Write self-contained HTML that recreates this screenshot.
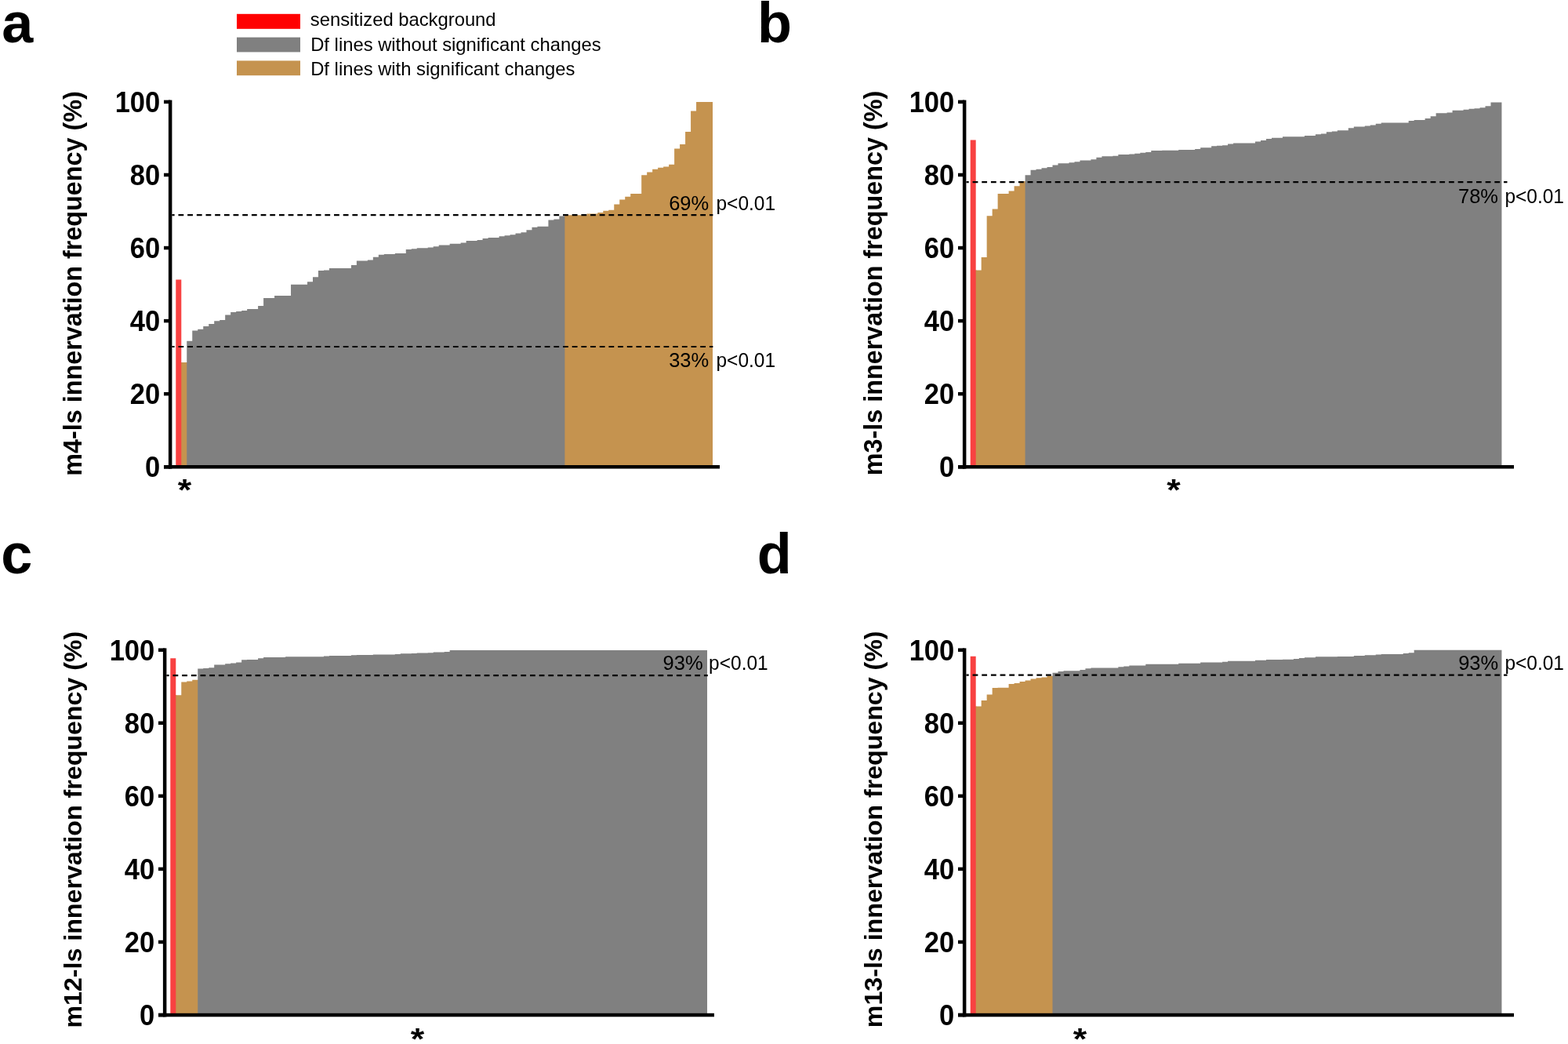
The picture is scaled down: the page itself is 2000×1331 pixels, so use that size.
<!DOCTYPE html>
<html><head><meta charset="utf-8"><title>Innervation frequency figure</title>
<style>html,body{margin:0;padding:0;background:#fff;}svg{display:block;}</style></head>
<body>
<svg width="2000" height="1331" viewBox="0 0 2000 1331">
<rect width="2000" height="1331" fill="#fff"/>
<path d="M224.3,593.2 L224.3,356.6 L231.29,356.6 L231.29,462.0 L232.09,462.0 L232.09,593.2 Z" fill="#F84141"/>
<path d="M231.29,593.2 L231.29,462.0 L238.27,462.0 L238.27,462.0 L239.07,462.0 L239.07,593.2 Z" fill="#C5934F"/>
<path d="M238.27,593.2 L238.27,434.8 L245.26,434.8 L245.26,421.6 L252.25,421.6 L252.25,419.7 L259.24,419.7 L259.24,416.1 L266.22,416.1 L266.22,413.1 L273.21,413.1 L273.21,409.3 L280.2,409.3 L280.2,408.1 L287.18,408.1 L287.18,401.5 L294.17,401.5 L294.17,397.9 L301.16,397.9 L301.16,397.0 L308.14,397.0 L308.14,395.9 L315.13,395.9 L315.13,394.0 L322.12,394.0 L322.12,394.0 L329.11,394.0 L329.11,390.1 L336.09,390.1 L336.09,379.9 L343.08,379.9 L343.08,379.9 L350.07,379.9 L350.07,376.9 L357.05,376.9 L357.05,376.9 L364.04,376.9 L364.04,376.9 L371.03,376.9 L371.03,362.8 L378.01,362.8 L378.01,362.8 L385.0,362.8 L385.0,362.8 L391.99,362.8 L391.99,359.2 L398.98,359.2 L398.98,353.2 L405.96,353.2 L405.96,345.0 L412.95,345.0 L412.95,344.5 L419.94,344.5 L419.94,342.0 L426.92,342.0 L426.92,342.0 L433.91,342.0 L433.91,342.0 L440.9,342.0 L440.9,342.0 L447.88,342.0 L447.88,338.1 L454.87,338.1 L454.87,332.5 L461.86,332.5 L461.86,332.5 L468.85,332.5 L468.85,331.5 L475.83,331.5 L475.83,327.7 L482.82,327.7 L482.82,324.7 L489.81,324.7 L489.81,323.9 L496.79,323.9 L496.79,323.9 L503.78,323.9 L503.78,322.9 L510.77,322.9 L510.77,322.9 L517.75,322.9 L517.75,318.1 L524.74,318.1 L524.74,317.3 L531.73,317.3 L531.73,316.3 L538.72,316.3 L538.72,316.3 L545.7,316.3 L545.7,315.4 L552.69,315.4 L552.69,314.3 L559.68,314.3 L559.68,312.4 L566.66,312.4 L566.66,312.4 L573.65,312.4 L573.65,310.7 L580.64,310.7 L580.64,310.7 L587.62,310.7 L587.62,309.5 L594.61,309.5 L594.61,307.0 L601.6,307.0 L601.6,307.0 L608.59,307.0 L608.59,305.9 L615.57,305.9 L615.57,304.0 L622.56,304.0 L622.56,303.1 L629.55,303.1 L629.55,303.1 L636.53,303.1 L636.53,301.3 L643.52,301.3 L643.52,300.3 L650.51,300.3 L650.51,299.3 L657.49,299.3 L657.49,297.4 L664.48,297.4 L664.48,296.2 L671.47,296.2 L671.47,293.3 L678.46,293.3 L678.46,289.7 L685.44,289.7 L685.44,288.7 L692.43,288.7 L692.43,288.7 L699.42,288.7 L699.42,280.5 L706.4,280.5 L706.4,279.5 L713.39,279.5 L713.39,275.6 L720.38,275.6 L720.38,275.6 L721.18,275.6 L721.18,593.2 Z" fill="#808080"/>
<path d="M720.38,593.2 L720.38,274.3 L727.36,274.3 L727.36,274.3 L734.35,274.3 L734.35,274.3 L741.34,274.3 L741.34,274.3 L748.33,274.3 L748.33,272.4 L755.31,272.4 L755.31,272.4 L762.3,272.4 L762.3,270.9 L769.29,270.9 L769.29,268.8 L776.27,268.8 L776.27,267.7 L783.26,267.7 L783.26,260.4 L790.25,260.4 L790.25,254.4 L797.23,254.4 L797.23,250.7 L804.22,250.7 L804.22,247.1 L811.21,247.1 L811.21,247.1 L818.19,247.1 L818.19,223.2 L825.18,223.2 L825.18,219.4 L832.17,219.4 L832.17,215.7 L839.16,215.7 L839.16,213.8 L846.14,213.8 L846.14,212.4 L853.13,212.4 L853.13,209.7 L860.12,209.7 L860.12,189.5 L867.1,189.5 L867.1,184.1 L874.09,184.1 L874.09,168.0 L881.08,168.0 L881.08,141.5 L888.07,141.5 L888.07,130.1 L895.05,130.1 L895.05,130.1 L902.04,130.1 L902.04,130.1 L909.03,130.1 L909.03,593.2 Z" fill="#C5934F"/>
<rect x="214.9" y="127.6" width="4.5" height="470.0" fill="#000"/>
<rect x="209.0" y="593.0" width="709.0" height="4.5" fill="#000"/>
<rect x="209.0" y="593.00" width="8.150000000000006" height="4.5" fill="#000"/>
<text transform="translate(204.3,608.15) scale(0.955,1)" text-anchor="end" font-family="'Liberation Sans', Arial, Helvetica, sans-serif" font-weight="bold" font-size="36.2">0</text>
<rect x="209.0" y="499.93" width="8.150000000000006" height="4.5" fill="#000"/>
<text transform="translate(204.3,515.08) scale(0.955,1)" text-anchor="end" font-family="'Liberation Sans', Arial, Helvetica, sans-serif" font-weight="bold" font-size="36.2">20</text>
<rect x="209.0" y="406.86" width="8.150000000000006" height="4.5" fill="#000"/>
<text transform="translate(204.3,422.01) scale(0.955,1)" text-anchor="end" font-family="'Liberation Sans', Arial, Helvetica, sans-serif" font-weight="bold" font-size="36.2">40</text>
<rect x="209.0" y="313.79" width="8.150000000000006" height="4.5" fill="#000"/>
<text transform="translate(204.3,328.94) scale(0.955,1)" text-anchor="end" font-family="'Liberation Sans', Arial, Helvetica, sans-serif" font-weight="bold" font-size="36.2">60</text>
<rect x="209.0" y="220.72" width="8.150000000000006" height="4.5" fill="#000"/>
<text transform="translate(204.3,235.87) scale(0.955,1)" text-anchor="end" font-family="'Liberation Sans', Arial, Helvetica, sans-serif" font-weight="bold" font-size="36.2">80</text>
<rect x="209.0" y="127.65" width="8.150000000000006" height="4.5" fill="#000"/>
<text transform="translate(204.3,142.80) scale(0.955,1)" text-anchor="end" font-family="'Liberation Sans', Arial, Helvetica, sans-serif" font-weight="bold" font-size="36.2">100</text>
<line x1="219.4" y1="274.15" x2="909.4" y2="274.15" stroke="#000" stroke-width="2.2" stroke-dasharray="6.8 4.88" stroke-dashoffset="3.6"/>
<line x1="219.4" y1="442.0" x2="909.4" y2="442.0" stroke="#000" stroke-width="2.2" stroke-dasharray="6.8 4.88" stroke-dashoffset="3.6"/>
<text x="904.2" y="268.0" text-anchor="end" font-family="'Liberation Sans', Arial, Helvetica, sans-serif" font-size="25.5">69%</text>
<text x="913.5" y="268.0" text-anchor="start" font-family="'Liberation Sans', Arial, Helvetica, sans-serif" font-size="25.5" textLength="75.6" lengthAdjust="spacingAndGlyphs">p&lt;0.01</text>
<text x="904.2" y="467.7" text-anchor="end" font-family="'Liberation Sans', Arial, Helvetica, sans-serif" font-size="25.5">33%</text>
<text x="913.5" y="467.7" text-anchor="start" font-family="'Liberation Sans', Arial, Helvetica, sans-serif" font-size="25.5" textLength="75.6" lengthAdjust="spacingAndGlyphs">p&lt;0.01</text>
<text transform="translate(104.0,361.55) rotate(-90)" text-anchor="middle" font-family="'Liberation Sans', Arial, Helvetica, sans-serif" font-weight="bold" font-size="32.33">m4-ls innervation frequency (%)</text>
<text x="2.3" y="53.5" font-family="'Liberation Sans', Arial, Helvetica, sans-serif" font-weight="bold" font-size="72">a</text>
<text transform="translate(235.5,638.2) scale(1.07,0.94)" text-anchor="middle" font-family="'Liberation Sans', Arial, Helvetica, sans-serif" font-weight="bold" font-size="42">*</text>
<path d="M1237.7,593.2 L1237.7,178.5 L1244.69,178.5 L1244.69,344.6 L1245.49,344.6 L1245.49,593.2 Z" fill="#F84141"/>
<path d="M1244.69,593.2 L1244.69,344.6 L1251.67,344.6 L1251.67,328.0 L1258.66,328.0 L1258.66,275.2 L1265.65,275.2 L1265.65,266.6 L1272.63,266.6 L1272.63,247.0 L1279.62,247.0 L1279.62,247.0 L1286.61,247.0 L1286.61,243.6 L1293.6,243.6 L1293.6,237.2 L1300.58,237.2 L1300.58,230.9 L1307.57,230.9 L1307.57,230.9 L1308.37,230.9 L1308.37,593.2 Z" fill="#C5934F"/>
<path d="M1307.57,593.2 L1307.57,223.2 L1314.56,223.2 L1314.56,216.7 L1321.54,216.7 L1321.54,215.7 L1328.53,215.7 L1328.53,214.2 L1335.52,214.2 L1335.52,213.1 L1342.51,213.1 L1342.51,210.4 L1349.49,210.4 L1349.49,208.3 L1356.48,208.3 L1356.48,208.3 L1363.47,208.3 L1363.47,207.3 L1370.45,207.3 L1370.45,206.3 L1377.44,206.3 L1377.44,204.4 L1384.43,204.4 L1384.43,204.4 L1391.41,204.4 L1391.41,203.3 L1398.4,203.3 L1398.4,200.7 L1405.39,200.7 L1405.39,199.3 L1412.38,199.3 L1412.38,199.3 L1419.36,199.3 L1419.36,198.7 L1426.35,198.7 L1426.35,196.9 L1433.34,196.9 L1433.34,196.9 L1440.32,196.9 L1440.32,196.5 L1447.31,196.5 L1447.31,195.7 L1454.3,195.7 L1454.3,194.8 L1461.28,194.8 L1461.28,194.1 L1468.27,194.1 L1468.27,192.1 L1475.26,192.1 L1475.26,192.1 L1482.25,192.1 L1482.25,191.8 L1489.23,191.8 L1489.23,191.8 L1496.22,191.8 L1496.22,191.8 L1503.21,191.8 L1503.21,191.1 L1510.19,191.1 L1510.19,190.9 L1517.18,190.9 L1517.18,190.9 L1524.17,190.9 L1524.17,190.0 L1531.15,190.0 L1531.15,188.3 L1538.14,188.3 L1538.14,188.3 L1545.13,188.3 L1545.13,186.3 L1552.12,186.3 L1552.12,185.8 L1559.1,185.8 L1559.1,185.3 L1566.09,185.3 L1566.09,183.6 L1573.08,183.6 L1573.08,182.4 L1580.06,182.4 L1580.06,182.4 L1587.05,182.4 L1587.05,182.4 L1594.04,182.4 L1594.04,182.4 L1601.02,182.4 L1601.02,180.6 L1608.01,180.6 L1608.01,178.9 L1615.0,178.9 L1615.0,177.0 L1621.99,177.0 L1621.99,175.8 L1628.97,175.8 L1628.97,175.8 L1635.96,175.8 L1635.96,174.3 L1642.95,174.3 L1642.95,174.3 L1649.93,174.3 L1649.93,174.3 L1656.92,174.3 L1656.92,174.3 L1663.91,174.3 L1663.91,173.1 L1670.89,173.1 L1670.89,173.1 L1677.88,173.1 L1677.88,171.3 L1684.87,171.3 L1684.87,170.4 L1691.86,170.4 L1691.86,168.3 L1698.84,168.3 L1698.84,167.4 L1705.83,167.4 L1705.83,166.3 L1712.82,166.3 L1712.82,166.3 L1719.8,166.3 L1719.8,163.2 L1726.79,163.2 L1726.79,161.6 L1733.78,161.6 L1733.78,161.6 L1740.76,161.6 L1740.76,160.6 L1747.75,160.6 L1747.75,159.4 L1754.74,159.4 L1754.74,157.8 L1761.72,157.8 L1761.72,156.6 L1768.71,156.6 L1768.71,156.6 L1775.7,156.6 L1775.7,156.6 L1782.69,156.6 L1782.69,156.6 L1789.67,156.6 L1789.67,156.6 L1796.66,156.6 L1796.66,154.1 L1803.65,154.1 L1803.65,153.0 L1810.63,153.0 L1810.63,153.0 L1817.62,153.0 L1817.62,151.1 L1824.61,151.1 L1824.61,148.2 L1831.6,148.2 L1831.6,144.2 L1838.58,144.2 L1838.58,144.2 L1845.57,144.2 L1845.57,143.5 L1852.56,143.5 L1852.56,140.8 L1859.54,140.8 L1859.54,140.8 L1866.53,140.8 L1866.53,139.8 L1873.52,139.8 L1873.52,138.7 L1880.5,138.7 L1880.5,138.2 L1887.49,138.2 L1887.49,137.3 L1894.48,137.3 L1894.48,135.3 L1901.47,135.3 L1901.47,130.4 L1908.45,130.4 L1908.45,130.4 L1915.44,130.4 L1915.44,593.2 Z" fill="#808080"/>
<rect x="1227.9" y="127.6" width="4.5" height="470.0" fill="#000"/>
<rect x="1222.0" y="593.0" width="709.0" height="4.5" fill="#000"/>
<rect x="1222.0" y="593.00" width="8.150000000000091" height="4.5" fill="#000"/>
<text transform="translate(1217.3,608.15) scale(0.955,1)" text-anchor="end" font-family="'Liberation Sans', Arial, Helvetica, sans-serif" font-weight="bold" font-size="36.2">0</text>
<rect x="1222.0" y="499.93" width="8.150000000000091" height="4.5" fill="#000"/>
<text transform="translate(1217.3,515.08) scale(0.955,1)" text-anchor="end" font-family="'Liberation Sans', Arial, Helvetica, sans-serif" font-weight="bold" font-size="36.2">20</text>
<rect x="1222.0" y="406.86" width="8.150000000000091" height="4.5" fill="#000"/>
<text transform="translate(1217.3,422.01) scale(0.955,1)" text-anchor="end" font-family="'Liberation Sans', Arial, Helvetica, sans-serif" font-weight="bold" font-size="36.2">40</text>
<rect x="1222.0" y="313.79" width="8.150000000000091" height="4.5" fill="#000"/>
<text transform="translate(1217.3,328.94) scale(0.955,1)" text-anchor="end" font-family="'Liberation Sans', Arial, Helvetica, sans-serif" font-weight="bold" font-size="36.2">60</text>
<rect x="1222.0" y="220.72" width="8.150000000000091" height="4.5" fill="#000"/>
<text transform="translate(1217.3,235.87) scale(0.955,1)" text-anchor="end" font-family="'Liberation Sans', Arial, Helvetica, sans-serif" font-weight="bold" font-size="36.2">80</text>
<rect x="1222.0" y="127.65" width="8.150000000000091" height="4.5" fill="#000"/>
<text transform="translate(1217.3,142.80) scale(0.955,1)" text-anchor="end" font-family="'Liberation Sans', Arial, Helvetica, sans-serif" font-weight="bold" font-size="36.2">100</text>
<line x1="1232.5" y1="232.1" x2="1922.5" y2="232.1" stroke="#000" stroke-width="2.2" stroke-dasharray="6.8 4.88" stroke-dashoffset="3.6"/>
<text x="1911.0" y="259.3" text-anchor="end" font-family="'Liberation Sans', Arial, Helvetica, sans-serif" font-size="25.5">78%</text>
<text x="1919.4" y="259.3" text-anchor="start" font-family="'Liberation Sans', Arial, Helvetica, sans-serif" font-size="25.5" textLength="75.6" lengthAdjust="spacingAndGlyphs">p&lt;0.01</text>
<text transform="translate(1125.0,361.0) rotate(-90)" text-anchor="middle" font-family="'Liberation Sans', Arial, Helvetica, sans-serif" font-weight="bold" font-size="32.33">m3-ls innervation frequency (%)</text>
<text x="966.0" y="53.5" font-family="'Liberation Sans', Arial, Helvetica, sans-serif" font-weight="bold" font-size="72">b</text>
<text transform="translate(1497.0,638.0) scale(1.07,0.94)" text-anchor="middle" font-family="'Liberation Sans', Arial, Helvetica, sans-serif" font-weight="bold" font-size="42">*</text>
<path d="M217.3,1292.0 L217.3,839.2 L224.29,839.2 L224.29,886.3 L225.09,886.3 L225.09,1292.0 Z" fill="#F84141"/>
<path d="M224.29,1292.0 L224.29,886.3 L231.27,886.3 L231.27,869.4 L238.26,869.4 L238.26,868.5 L245.25,868.5 L245.25,866.7 L252.24,866.7 L252.24,866.7 L253.04,866.7 L253.04,1292.0 Z" fill="#C5934F"/>
<path d="M252.24,1292.0 L252.24,852.6 L259.22,852.6 L259.22,852.1 L266.21,852.1 L266.21,851.2 L273.2,851.2 L273.2,847.4 L280.18,847.4 L280.18,847.4 L287.17,847.4 L287.17,846.3 L294.16,846.3 L294.16,845.5 L301.14,845.5 L301.14,844.5 L308.13,844.5 L308.13,841.2 L315.12,841.2 L315.12,840.9 L322.11,840.9 L322.11,840.9 L329.09,840.9 L329.09,839.3 L336.08,839.3 L336.08,837.9 L343.07,837.9 L343.07,837.9 L350.05,837.9 L350.05,837.9 L357.04,837.9 L357.04,837.9 L364.03,837.9 L364.03,837.2 L371.01,837.2 L371.01,837.2 L378.0,837.2 L378.0,837.2 L384.99,837.2 L384.99,837.2 L391.98,837.2 L391.98,837.2 L398.96,837.2 L398.96,837.2 L405.95,837.2 L405.95,837.2 L412.94,837.2 L412.94,836.4 L419.92,836.4 L419.92,836.0 L426.91,836.0 L426.91,836.0 L433.9,836.0 L433.9,836.0 L440.88,836.0 L440.88,836.0 L447.87,836.0 L447.87,835.2 L454.86,835.2 L454.86,834.9 L461.85,834.9 L461.85,834.9 L468.83,834.9 L468.83,834.9 L475.82,834.9 L475.82,834.4 L482.81,834.4 L482.81,834.4 L489.79,834.4 L489.79,834.4 L496.78,834.4 L496.78,834.4 L503.77,834.4 L503.77,834.1 L510.75,834.1 L510.75,833.3 L517.74,833.3 L517.74,833.3 L524.73,833.3 L524.73,833.1 L531.72,833.1 L531.72,832.5 L538.7,832.5 L538.7,832.5 L545.69,832.5 L545.69,832.3 L552.68,832.3 L552.68,831.5 L559.66,831.5 L559.66,831.5 L566.65,831.5 L566.65,831.1 L573.64,831.1 L573.64,829.0 L580.62,829.0 L580.62,829.0 L587.61,829.0 L587.61,829.0 L594.6,829.0 L594.6,829.0 L601.59,829.0 L601.59,829.0 L608.57,829.0 L608.57,829.0 L615.56,829.0 L615.56,829.0 L622.55,829.0 L622.55,829.0 L629.53,829.0 L629.53,829.0 L636.52,829.0 L636.52,829.0 L643.51,829.0 L643.51,829.0 L650.49,829.0 L650.49,829.0 L657.48,829.0 L657.48,829.0 L664.47,829.0 L664.47,829.0 L671.46,829.0 L671.46,829.0 L678.44,829.0 L678.44,829.0 L685.43,829.0 L685.43,829.0 L692.42,829.0 L692.42,829.0 L699.4,829.0 L699.4,829.0 L706.39,829.0 L706.39,829.0 L713.38,829.0 L713.38,829.0 L720.36,829.0 L720.36,829.0 L727.35,829.0 L727.35,829.0 L734.34,829.0 L734.34,829.0 L741.33,829.0 L741.33,829.0 L748.31,829.0 L748.31,829.0 L755.3,829.0 L755.3,829.0 L762.29,829.0 L762.29,829.0 L769.27,829.0 L769.27,829.0 L776.26,829.0 L776.26,829.0 L783.25,829.0 L783.25,829.0 L790.23,829.0 L790.23,829.0 L797.22,829.0 L797.22,829.0 L804.21,829.0 L804.21,829.0 L811.19,829.0 L811.19,829.0 L818.18,829.0 L818.18,829.0 L825.17,829.0 L825.17,829.0 L832.16,829.0 L832.16,829.0 L839.14,829.0 L839.14,829.0 L846.13,829.0 L846.13,829.0 L853.12,829.0 L853.12,829.0 L860.1,829.0 L860.1,829.0 L867.09,829.0 L867.09,829.0 L874.08,829.0 L874.08,829.0 L881.07,829.0 L881.07,829.0 L888.05,829.0 L888.05,829.0 L895.04,829.0 L895.04,829.0 L902.03,829.0 L902.03,1292.0 Z" fill="#808080"/>
<rect x="207.9" y="826.4" width="4.5" height="470.0" fill="#000"/>
<rect x="202.0" y="1291.8" width="709.0" height="4.5" fill="#000"/>
<rect x="202.0" y="1291.80" width="8.150000000000006" height="4.5" fill="#000"/>
<text transform="translate(197.3,1306.95) scale(0.955,1)" text-anchor="end" font-family="'Liberation Sans', Arial, Helvetica, sans-serif" font-weight="bold" font-size="36.2">0</text>
<rect x="202.0" y="1198.73" width="8.150000000000006" height="4.5" fill="#000"/>
<text transform="translate(197.3,1213.88) scale(0.955,1)" text-anchor="end" font-family="'Liberation Sans', Arial, Helvetica, sans-serif" font-weight="bold" font-size="36.2">20</text>
<rect x="202.0" y="1105.66" width="8.150000000000006" height="4.5" fill="#000"/>
<text transform="translate(197.3,1120.81) scale(0.955,1)" text-anchor="end" font-family="'Liberation Sans', Arial, Helvetica, sans-serif" font-weight="bold" font-size="36.2">40</text>
<rect x="202.0" y="1012.59" width="8.150000000000006" height="4.5" fill="#000"/>
<text transform="translate(197.3,1027.74) scale(0.955,1)" text-anchor="end" font-family="'Liberation Sans', Arial, Helvetica, sans-serif" font-weight="bold" font-size="36.2">60</text>
<rect x="202.0" y="919.52" width="8.150000000000006" height="4.5" fill="#000"/>
<text transform="translate(197.3,934.67) scale(0.955,1)" text-anchor="end" font-family="'Liberation Sans', Arial, Helvetica, sans-serif" font-weight="bold" font-size="36.2">80</text>
<rect x="202.0" y="826.45" width="8.150000000000006" height="4.5" fill="#000"/>
<text transform="translate(197.3,841.60) scale(0.955,1)" text-anchor="end" font-family="'Liberation Sans', Arial, Helvetica, sans-serif" font-weight="bold" font-size="36.2">100</text>
<line x1="212.4" y1="861.1" x2="902.8" y2="861.1" stroke="#000" stroke-width="2.2" stroke-dasharray="6.8 4.88" stroke-dashoffset="3.6"/>
<text x="896.6" y="854.1" text-anchor="end" font-family="'Liberation Sans', Arial, Helvetica, sans-serif" font-size="25.5">93%</text>
<text x="904.1" y="854.1" text-anchor="start" font-family="'Liberation Sans', Arial, Helvetica, sans-serif" font-size="25.5" textLength="75.6" lengthAdjust="spacingAndGlyphs">p&lt;0.01</text>
<text transform="translate(104.0,1057.7) rotate(-90)" text-anchor="middle" font-family="'Liberation Sans', Arial, Helvetica, sans-serif" font-weight="bold" font-size="32.17">m12-ls innervation frequency (%)</text>
<text x="1.3" y="731.0" font-family="'Liberation Sans', Arial, Helvetica, sans-serif" font-weight="bold" font-size="72">c</text>
<text transform="translate(532.5,1338.2) scale(1.07,0.94)" text-anchor="middle" font-family="'Liberation Sans', Arial, Helvetica, sans-serif" font-weight="bold" font-size="42">*</text>
<path d="M1237.7,1292.0 L1237.7,836.8 L1244.69,836.8 L1244.69,900.4 L1245.49,900.4 L1245.49,1292.0 Z" fill="#F84141"/>
<path d="M1244.69,1292.0 L1244.69,900.4 L1251.67,900.4 L1251.67,892.9 L1258.66,892.9 L1258.66,885.4 L1265.65,885.4 L1265.65,877.0 L1272.63,877.0 L1272.63,876.7 L1279.62,876.7 L1279.62,876.7 L1286.61,876.7 L1286.61,872.1 L1293.6,872.1 L1293.6,871.0 L1300.58,871.0 L1300.58,869.1 L1307.57,869.1 L1307.57,867.4 L1314.56,867.4 L1314.56,865.5 L1321.54,865.5 L1321.54,864.3 L1328.53,864.3 L1328.53,863.5 L1335.52,863.5 L1335.52,861.7 L1342.51,861.7 L1342.51,861.7 L1343.31,861.7 L1343.31,1292.0 Z" fill="#C5934F"/>
<path d="M1342.51,1292.0 L1342.51,857.8 L1349.49,857.8 L1349.49,856.0 L1356.48,856.0 L1356.48,855.3 L1363.47,855.3 L1363.47,855.3 L1370.45,855.3 L1370.45,855.3 L1377.44,855.3 L1377.44,854.1 L1384.43,854.1 L1384.43,852.2 L1391.41,852.2 L1391.41,851.5 L1398.4,851.5 L1398.4,851.5 L1405.39,851.5 L1405.39,851.5 L1412.38,851.5 L1412.38,851.5 L1419.36,851.5 L1419.36,851.5 L1426.35,851.5 L1426.35,850.3 L1433.34,850.3 L1433.34,849.5 L1440.32,849.5 L1440.32,848.5 L1447.31,848.5 L1447.31,848.5 L1454.3,848.5 L1454.3,848.5 L1461.28,848.5 L1461.28,846.7 L1468.27,846.7 L1468.27,846.7 L1475.26,846.7 L1475.26,846.7 L1482.25,846.7 L1482.25,846.7 L1489.23,846.7 L1489.23,846.7 L1496.22,846.7 L1496.22,846.7 L1503.21,846.7 L1503.21,845.7 L1510.19,845.7 L1510.19,845.7 L1517.18,845.7 L1517.18,845.7 L1524.17,845.7 L1524.17,845.7 L1531.15,845.7 L1531.15,844.6 L1538.14,844.6 L1538.14,844.6 L1545.13,844.6 L1545.13,844.6 L1552.12,844.6 L1552.12,844.6 L1559.1,844.6 L1559.1,843.7 L1566.09,843.7 L1566.09,842.8 L1573.08,842.8 L1573.08,842.8 L1580.06,842.8 L1580.06,842.8 L1587.05,842.8 L1587.05,842.8 L1594.04,842.8 L1594.04,842.8 L1601.02,842.8 L1601.02,841.7 L1608.01,841.7 L1608.01,841.7 L1615.0,841.7 L1615.0,840.9 L1621.99,840.9 L1621.99,840.9 L1628.97,840.9 L1628.97,840.9 L1635.96,840.9 L1635.96,840.8 L1642.95,840.8 L1642.95,840.8 L1649.93,840.8 L1649.93,839.9 L1656.92,839.9 L1656.92,839.1 L1663.91,839.1 L1663.91,838.3 L1670.89,838.3 L1670.89,838.3 L1677.88,838.3 L1677.88,837.3 L1684.87,837.3 L1684.87,837.3 L1691.86,837.3 L1691.86,837.3 L1698.84,837.3 L1698.84,837.3 L1705.83,837.3 L1705.83,837.0 L1712.82,837.0 L1712.82,837.0 L1719.8,837.0 L1719.8,837.0 L1726.79,837.0 L1726.79,836.1 L1733.78,836.1 L1733.78,836.1 L1740.76,836.1 L1740.76,835.2 L1747.75,835.2 L1747.75,835.2 L1754.74,835.2 L1754.74,834.5 L1761.72,834.5 L1761.72,834.0 L1768.71,834.0 L1768.71,834.0 L1775.7,834.0 L1775.7,834.0 L1782.69,834.0 L1782.69,834.0 L1789.67,834.0 L1789.67,833.1 L1796.66,833.1 L1796.66,832.2 L1803.65,832.2 L1803.65,828.8 L1810.63,828.8 L1810.63,828.8 L1817.62,828.8 L1817.62,828.8 L1824.61,828.8 L1824.61,828.8 L1831.6,828.8 L1831.6,828.8 L1838.58,828.8 L1838.58,828.8 L1845.57,828.8 L1845.57,828.8 L1852.56,828.8 L1852.56,828.8 L1859.54,828.8 L1859.54,828.8 L1866.53,828.8 L1866.53,828.8 L1873.52,828.8 L1873.52,828.8 L1880.5,828.8 L1880.5,828.8 L1887.49,828.8 L1887.49,828.8 L1894.48,828.8 L1894.48,828.8 L1901.47,828.8 L1901.47,828.8 L1908.45,828.8 L1908.45,828.8 L1915.44,828.8 L1915.44,1292.0 Z" fill="#808080"/>
<rect x="1227.9" y="826.4" width="4.5" height="470.0" fill="#000"/>
<rect x="1222.0" y="1291.8" width="709.0" height="4.5" fill="#000"/>
<rect x="1222.0" y="1291.80" width="8.150000000000091" height="4.5" fill="#000"/>
<text transform="translate(1217.3,1306.95) scale(0.955,1)" text-anchor="end" font-family="'Liberation Sans', Arial, Helvetica, sans-serif" font-weight="bold" font-size="36.2">0</text>
<rect x="1222.0" y="1198.73" width="8.150000000000091" height="4.5" fill="#000"/>
<text transform="translate(1217.3,1213.88) scale(0.955,1)" text-anchor="end" font-family="'Liberation Sans', Arial, Helvetica, sans-serif" font-weight="bold" font-size="36.2">20</text>
<rect x="1222.0" y="1105.66" width="8.150000000000091" height="4.5" fill="#000"/>
<text transform="translate(1217.3,1120.81) scale(0.955,1)" text-anchor="end" font-family="'Liberation Sans', Arial, Helvetica, sans-serif" font-weight="bold" font-size="36.2">40</text>
<rect x="1222.0" y="1012.59" width="8.150000000000091" height="4.5" fill="#000"/>
<text transform="translate(1217.3,1027.74) scale(0.955,1)" text-anchor="end" font-family="'Liberation Sans', Arial, Helvetica, sans-serif" font-weight="bold" font-size="36.2">60</text>
<rect x="1222.0" y="919.52" width="8.150000000000091" height="4.5" fill="#000"/>
<text transform="translate(1217.3,934.67) scale(0.955,1)" text-anchor="end" font-family="'Liberation Sans', Arial, Helvetica, sans-serif" font-weight="bold" font-size="36.2">80</text>
<rect x="1222.0" y="826.45" width="8.150000000000091" height="4.5" fill="#000"/>
<text transform="translate(1217.3,841.60) scale(0.955,1)" text-anchor="end" font-family="'Liberation Sans', Arial, Helvetica, sans-serif" font-weight="bold" font-size="36.2">100</text>
<line x1="1232.5" y1="860.6" x2="1922.5" y2="860.6" stroke="#000" stroke-width="2.2" stroke-dasharray="6.8 4.88" stroke-dashoffset="3.6"/>
<text x="1911.2" y="853.8" text-anchor="end" font-family="'Liberation Sans', Arial, Helvetica, sans-serif" font-size="25.5">93%</text>
<text x="1919.4" y="853.8" text-anchor="start" font-family="'Liberation Sans', Arial, Helvetica, sans-serif" font-size="25.5" textLength="75.6" lengthAdjust="spacingAndGlyphs">p&lt;0.01</text>
<text transform="translate(1125.0,1057.3) rotate(-90)" text-anchor="middle" font-family="'Liberation Sans', Arial, Helvetica, sans-serif" font-weight="bold" font-size="32.17">m13-ls innervation frequency (%)</text>
<text x="965.8" y="731.0" font-family="'Liberation Sans', Arial, Helvetica, sans-serif" font-weight="bold" font-size="72">d</text>
<text transform="translate(1377.5,1338.2) scale(1.07,0.94)" text-anchor="middle" font-family="'Liberation Sans', Arial, Helvetica, sans-serif" font-weight="bold" font-size="42">*</text>
<rect x="302" y="17.8" width="81" height="19" fill="#FF0000"/>
<rect x="302" y="47.6" width="81" height="18.8" fill="#808080"/>
<rect x="302" y="77.4" width="81" height="18.8" fill="#C5934F"/>
<text x="395.8" y="33.2" font-family="'Liberation Sans', Arial, Helvetica, sans-serif" font-size="23.8">sensitized background</text>
<text x="396.2" y="64.6" font-family="'Liberation Sans', Arial, Helvetica, sans-serif" font-size="23.8">Df lines without significant changes</text>
<text x="396.2" y="96.0" font-family="'Liberation Sans', Arial, Helvetica, sans-serif" font-size="23.8">Df lines with significant changes</text>
</svg>
</body></html>
